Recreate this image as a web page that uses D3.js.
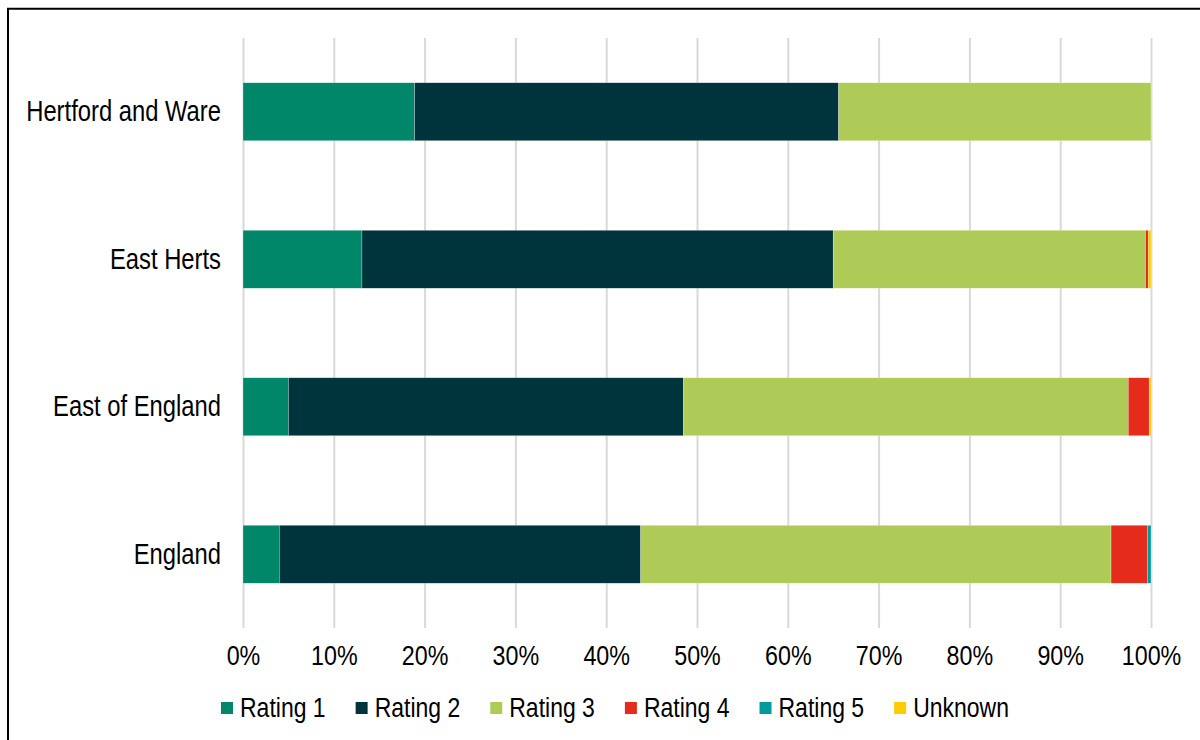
<!DOCTYPE html>
<html>
<head>
<meta charset="utf-8">
<script src="https://cdn.jsdelivr.net/npm/d3@7"></script>
<style>
  html, body { margin: 0; padding: 0; background: #fff; }
  svg { display: block; font-family: "Liberation Sans", Arial, sans-serif; }
</style>
</head>
<body>
<div id="chart"></div>
<script>
// Data (percent of total)
const categories = ["Hertford and Ware", "East Herts", "East of England", "England"];
const seriesNames = ["Rating 1", "Rating 2", "Rating 3", "Rating 4", "Rating 5", "Unknown"];
const rating1 = [18.9, 13.1, 5.0, 4.0];
const rating2 = [46.7, 51.9, 43.5, 39.8];
const rating3 = [34.4, 34.4, 49.0, 51.8];
const rating4 = [0, 0.3, 2.3, 4.0];
const rating5 = [0, 0, 0, 0.4];
const unknown = [0, 0.3, 0.2, 0];
const seriesColors = ["#00876a", "#00343d", "#afcb57", "#e52b1b", "#009b9a", "#ffcc00"];
const tickValues = [0, 10, 20, 30, 40, 50, 60, 70, 80, 90, 100];

const seriesValues = [rating1, rating2, rating3, rating4, rating5, unknown];
const table = categories.map((c, i) => {
  const row = { category: c };
  seriesNames.forEach((s, j) => (row[s] = seriesValues[j][i]));
  return row;
});

const width = 1200;
const height = 740;
const stretch = 1.22; // text in the original is slightly taller than wide

const svg = d3.select("#chart").append("svg").attr("width", width).attr("height", height);

// frame (only top and left edges are visible)
svg.append("path").attr("d", "M8,740V8.75H1200").attr("fill", "none").attr("stroke", "#000").attr("stroke-width", 2);

const x = d3.scaleLinear().domain([0, 100]).range([243, 1151]);
const y = d3.scaleBand().domain(categories).range([38, 628]).paddingInner(0.607).paddingOuter(0.3035);
const color = d3.scaleOrdinal().domain(seriesNames).range(seriesColors);

// gridlines + tick labels
const axis = svg
  .append("g")
  .attr("transform", "translate(0,628)")
  .call(d3.axisBottom(x).tickValues(tickValues).tickFormat((d) => d + "%").tickSize(-(628 - 38)));
axis.select(".domain").remove();
axis.selectAll("line").attr("stroke", "#d9d9d9").attr("stroke-width", 2);
axis
  .selectAll("text")
  .attr("y", null)
  .attr("dy", null)
  .attr("transform", `translate(0,37) scale(1,${stretch})`)
  .attr("fill", "#000")
  .attr("font-size", 23.3)
  .attr("font-family", "Liberation Sans, Arial, sans-serif");

// stacked bars
const stacked = d3.stack().keys(seriesNames)(table);
svg
  .append("g")
  .selectAll("g")
  .data(stacked)
  .join("g")
  .attr("fill", (d) => color(d.key))
  .selectAll("rect")
  .data((d) => d)
  .join("rect")
  .attr("x", (d) => x(d[0]))
  .attr("y", (d) => y(d.data.category))
  .attr("width", (d) => x(d[1]) - x(d[0]))
  .attr("height", y.bandwidth())
  .attr("stroke", "#fff")
  .attr("stroke-width", 0.5)
  .attr("stroke-opacity", 0.5);

// category labels
svg
  .append("g")
  .selectAll("text")
  .data(categories)
  .join("text")
  .attr("text-anchor", "end")
  .attr("font-size", 23.8)
  .attr("fill", "#000")
  .attr("transform", (d) => `translate(221,${y(d) + y.bandwidth() / 2 + 9.5}) scale(1,${stretch})`)
  .text((d) => d);

// legend
const legend = svg.append("g");
let lx = 221;
seriesNames.forEach((name) => {
  legend.append("rect").attr("x", lx).attr("y", 702).attr("width", 12).attr("height", 12).attr("fill", color(name));
  const t = legend
    .append("text")
    .attr("font-size", 23)
    .attr("fill", "#000")
    .attr("transform", `translate(${lx + 19},717) scale(1,${stretch})`)
    .text(name);
  lx += 19 + t.node().getComputedTextLength() + 30;
});
</script>
</body>
</html>
